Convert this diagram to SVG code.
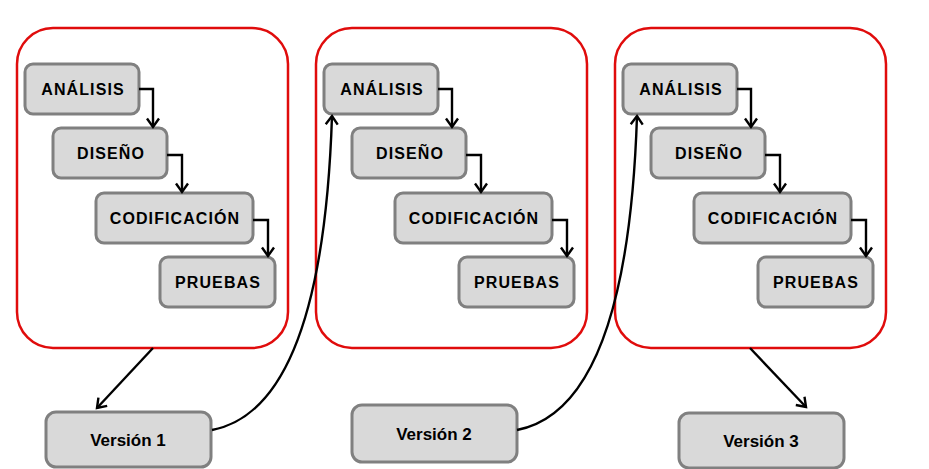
<svg xmlns="http://www.w3.org/2000/svg" width="929" height="469" viewBox="0 0 929 469">
<defs>
<style>
.cont{fill:#ffffff;stroke:#e00c0c;stroke-width:2.5}
.box{fill:#d9d9d9;stroke:#808080;stroke-width:3}
.lbl{font-family:"Liberation Sans",Arial,sans-serif;font-weight:bold;font-size:16px;letter-spacing:1.1px;fill:#000;text-anchor:middle}
.vlbl{font-family:"Liberation Sans",Arial,sans-serif;font-weight:bold;font-size:17px;fill:#000;text-anchor:middle}
.con{fill:none;stroke:#000;stroke-width:2.4;marker-end:url(#arr)}
</style>
<marker id="arr" markerUnits="userSpaceOnUse" markerWidth="14" markerHeight="16" refX="10" refY="8" orient="auto">
<path d="M1.5,2 L10,8 L1.5,14" fill="none" stroke="#000" stroke-width="2.4"/>
</marker>
</defs>

<g id="etapa1">
<rect class="cont" x="17" y="28" width="271" height="320" rx="36"/>
<g id="analisis1"><rect class="box" x="25" y="64" width="114" height="50" rx="8"/><text class="lbl" x="83" y="95">ANÁLISIS</text></g>
<g id="diseno1"><rect class="box" x="53" y="128" width="114" height="50" rx="8"/><text class="lbl" x="111" y="159">DISEÑO</text></g>
<g id="codificacion1"><rect class="box" x="96" y="193" width="157" height="50" rx="8"/><text class="lbl" x="175" y="224">CODIFICACIÓN</text></g>
<g id="pruebas1"><rect class="box" x="160" y="257" width="115" height="50" rx="8"/><text class="lbl" x="218" y="288">PRUEBAS</text></g>
</g>

<g id="etapa2">
<rect class="cont" x="316" y="28" width="271" height="320" rx="36"/>
<g id="analisis2"><rect class="box" x="324" y="64" width="114" height="50" rx="8"/><text class="lbl" x="382" y="95">ANÁLISIS</text></g>
<g id="diseno2"><rect class="box" x="352" y="128" width="114" height="50" rx="8"/><text class="lbl" x="410" y="159">DISEÑO</text></g>
<g id="codificacion2"><rect class="box" x="395" y="193" width="157" height="50" rx="8"/><text class="lbl" x="474" y="224">CODIFICACIÓN</text></g>
<g id="pruebas2"><rect class="box" x="459" y="257" width="115" height="50" rx="8"/><text class="lbl" x="517" y="288">PRUEBAS</text></g>
</g>

<g id="etapa3">
<rect class="cont" x="615" y="28" width="271" height="320" rx="36"/>
<g id="analisis3"><rect class="box" x="623" y="64" width="114" height="50" rx="8"/><text class="lbl" x="681" y="95">ANÁLISIS</text></g>
<g id="diseno3"><rect class="box" x="651" y="128" width="114" height="50" rx="8"/><text class="lbl" x="709" y="159">DISEÑO</text></g>
<g id="codificacion3"><rect class="box" x="694" y="193" width="157" height="50" rx="8"/><text class="lbl" x="773" y="224">CODIFICACIÓN</text></g>
<g id="pruebas3"><rect class="box" x="758" y="257" width="115" height="50" rx="8"/><text class="lbl" x="816" y="288">PRUEBAS</text></g>
</g>

<g id="version1"><rect class="box" x="46" y="412" width="165" height="55" rx="10"/><text class="vlbl" x="128" y="446">Versión 1</text></g>
<g id="version2"><rect class="box" x="352" y="405" width="165" height="57" rx="10"/><text class="vlbl" x="434" y="440">Versión 2</text></g>
<g id="version3"><rect class="box" x="679" y="413" width="165" height="55" rx="10"/><text class="vlbl" x="761" y="447">Versión 3</text></g>

<g id="connectors">
<path class="con" d="M139,89 H153 V127"/>
<path class="con" d="M167,155 H182 V192"/>
<path class="con" d="M253,220 H268 V256"/>
<path class="con" d="M438,89 H452 V127"/>
<path class="con" d="M466,155 H481 V192"/>
<path class="con" d="M552,220 H567 V256"/>
<path class="con" d="M737,89 H751 V127"/>
<path class="con" d="M765,155 H780 V192"/>
<path class="con" d="M851,220 H866 V256"/>
<path class="con" d="M153,348 L97,408"/>
<path class="con" d="M750,348 L806,407"/>
<path class="con" d="M212,430 C290,415 326,300 332,116"/>
<path class="con" d="M517,430 C595,415 631,300 637,116"/>
</g>
</svg>
